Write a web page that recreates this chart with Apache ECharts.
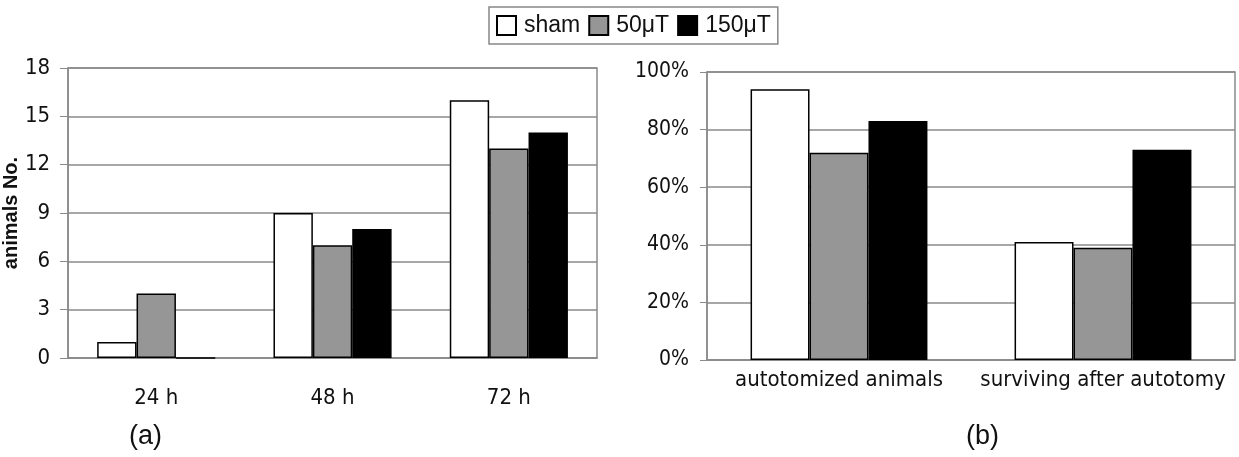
<!DOCTYPE html>
<html>
<head>
<meta charset="utf-8">
<script src="https://cdn.jsdelivr.net/npm/echarts@6/dist/echarts.min.js"></script>
<style>
  html, body { margin: 0; padding: 0; background: #fff; }
  #chart { width: 1239px; height: 457px; }
</style>
</head>
<body>
<div id="chart"></div>
<script>
/* data */
var groups = ['sham', '50μT', '150μT'];
var hours = ['24 h', '48 h', '72 h'];
var shamCount = [1, 9, 16];
var mid50Count = [4, 7, 13];
var high150Count = [0, 8, 14];
var outcomes = ['autotomized animals', 'surviving after autotomy'];
var shamPct = [94, 41];
var mid50Pct = [72, 39];
var high150Pct = [83, 73];
var countTicks = { min: 0, max: 18, interval: 3 };
var pctTicks = { min: 0, max: 100, interval: 20 };

var fills = ['#ffffff', '#969696', '#000000'];
var gridCol = '#8a8a8a';
var narrow = '"DejaVu Sans Condensed", "Liberation Sans Narrow", Arial, sans-serif';

var myChart = echarts.init(document.getElementById('chart'), null, { renderer: 'canvas' });

function barSeries(name, data, idx, axisIdx) {
    return {
        name: name,
        type: 'bar',
        xAxisIndex: axisIdx,
        yAxisIndex: axisIdx,
        data: data,
        barGap: '0%',
        barCategoryGap: '33%',
        itemStyle: { color: fills[idx], borderColor: '#000', borderWidth: 1.5 },
        emphasis: { disabled: true }
    };
}

var option = {
    backgroundColor: '#fff',
    animation: false,
    title: [
        { text: '(a)', left: 124, top: 418, textStyle: { fontFamily: 'Liberation Sans', fontWeight: 'normal', fontSize: 27, color: '#111' } },
        { text: '(b)', left: 961, top: 418, textStyle: { fontFamily: 'Liberation Sans', fontWeight: 'normal', fontSize: 27, color: '#111' } }
    ],
    legend: {
        data: groups,
        left: 489,
        top: 7,
        padding: [7, 7, 7, 7],
        itemWidth: 19,
        itemHeight: 19,
        itemGap: 8,
        icon: 'rect',
        borderColor: '#888',
        borderWidth: 1.5,
        textStyle: { fontFamily: 'Liberation Sans', fontSize: 23, color: '#111', padding: [0, 0, 0, 3] }
    },
    grid: [
        { left: 68, right: 642, top: 68, bottom: 99, show: true, borderColor: gridCol, borderWidth: 1.5, backgroundColor: 'transparent' },
        { left: 707, right: 4, top: 72, bottom: 97, show: true, borderColor: gridCol, borderWidth: 1.5, backgroundColor: 'transparent' }
    ],
    xAxis: [
        {
            type: 'category', gridIndex: 0, data: hours,
            axisLine: { lineStyle: { color: gridCol, width: 1.5 } },
            axisTick: { length: 6, lineStyle: { color: gridCol } },
            axisLabel: { margin: 29, fontFamily: narrow, fontSize: 22, color: '#111' }
        },
        {
            type: 'category', gridIndex: 1, data: outcomes,
            axisLine: { lineStyle: { color: gridCol, width: 1.5 } },
            axisTick: { length: 6, lineStyle: { color: gridCol } },
            axisLabel: { interval: 0, hideOverlap: false, margin: 9, fontFamily: narrow, fontSize: 22, color: '#111' }
        }
    ],
    yAxis: [
        {
            type: 'value', gridIndex: 0,
            min: countTicks.min, max: countTicks.max, interval: countTicks.interval,
            name: 'animals No.', nameLocation: 'middle', nameGap: 45, nameRotate: 90,
            nameTextStyle: { fontFamily: 'Liberation Sans', fontWeight: 'bold', fontSize: 20, color: '#111' },
            axisLine: { show: true, lineStyle: { color: gridCol, width: 1.5 } },
            axisTick: { show: true, length: 8, lineStyle: { color: gridCol } },
            splitLine: { lineStyle: { color: gridCol, width: 1.5 } },
            axisLabel: { margin: 18, fontFamily: narrow, fontSize: 22, color: '#111' }
        },
        {
            type: 'value', gridIndex: 1,
            min: pctTicks.min, max: pctTicks.max, interval: pctTicks.interval,
            axisLine: { show: true, lineStyle: { color: gridCol, width: 1.5 } },
            axisTick: { show: true, length: 7, lineStyle: { color: gridCol } },
            splitLine: { lineStyle: { color: gridCol, width: 1.5 } },
            axisLabel: { margin: 18, fontFamily: narrow, fontSize: 21, color: '#111', formatter: '{value}%' }
        }
    ],
    series: [
        barSeries(groups[0], shamCount, 0, 0),
        barSeries(groups[1], mid50Count, 1, 0),
        barSeries(groups[2], high150Count, 2, 0),
        barSeries(groups[0], shamPct, 0, 1),
        barSeries(groups[1], mid50Pct, 1, 1),
        barSeries(groups[2], high150Pct, 2, 1)
    ]
};

myChart.setOption(option);
</script>
</body>
</html>
